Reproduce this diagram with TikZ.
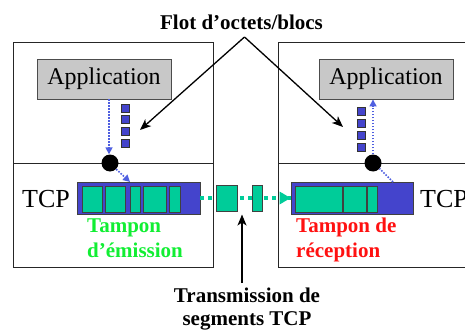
\documentclass[tikz,border=0pt]{standalone}
\usepackage{fontspec}
\setmainfont{Liberation Serif}
\usetikzlibrary{arrows.meta}
\definecolor{bufblue}{HTML}{4444CC}
\definecolor{seggreen}{HTML}{00CC99}
\definecolor{flowblue}{HTML}{4F5FE0}
\definecolor{appgray}{HTML}{C8C8C8}
\definecolor{emigreen}{HTML}{11EE33}
\definecolor{recred}{HTML}{FF1111}
\tikzset{
  frame/.style={draw=black!85, line width=1pt},
  appbox/.style={draw=black!70, fill=appgray, line width=0.9pt, minimum width=134pt, minimum height=40pt,
    inner sep=0pt, font=\fontsize{24}{28}\selectfont},
  byte/.style={draw=black!80, fill=bufblue, line width=0.6pt, minimum size=8pt, inner sep=0pt},
  junction/.style={circle, fill=black, minimum size=17pt, inner sep=0pt},
  buffer/.style={draw=black!75, fill=bufblue, line width=0.9pt, minimum height=32pt, inner sep=0pt},
  segment/.style={draw=black!75, fill=seggreen, line width=0.9pt, minimum height=26pt, inner sep=0pt},
  flow/.style={flowblue, line width=1.6pt, dash pattern=on 1.6pt off 1.4pt},
  flowtip/.style={-{Triangle[length=7pt,width=7pt]}},
  wire/.style={seggreen, line width=4pt, dash pattern=on 4pt off 4pt},
  callout/.style={black, line width=1.3pt, -{Stealth[length=11pt,width=9pt,inset=3pt]}},
  label/.style={font=\bfseries\fontsize{21}{25}\selectfont, inner sep=0pt},
  layer/.style={font=\fontsize{26}{30}\selectfont, inner sep=0pt}
}
\begin{document}
\begin{tikzpicture}[x=1pt,y=-1pt]
\useasboundingbox (0,0) rectangle (465,334);
\clip (0,0) rectangle (465,334);

% sending host
\draw[frame] (13,43) rectangle (213,267);
\draw[frame] (13,163) -- (213,163);
% receiving host (continues past the right edge)
\draw[frame] (478,43) -- (278,43) -- (278,267) -- (478,267);
\draw[frame] (278,163) -- (478,163);

% applications
\node[appbox] (appL) at (104,79) {Application};
\node[appbox] (appR) at (386,79) {Application};

% byte streams
\node[byte] (bL1) at (125,108) {};
\node[byte] (bL2) at (125,119.5) {};
\node[byte] (bL3) at (125,131) {};
\node[byte] (bL4) at (125,143) {};
\node[byte] (bR1) at (361.5,111) {};
\node[byte] (bR2) at (361.5,123) {};
\node[byte] (bR3) at (361.5,135) {};
\node[byte] (bR4) at (361.5,147) {};

% socket junctions
\node[junction] (jL) at (110,163) {};
\node[junction] (jR) at (373,163) {};

% TCP buffers
\node[buffer, minimum width=123pt] (bufL) at (138.5,198) {};
\node[buffer, minimum width=122pt] (bufR) at (352,198) {};

% data path between the two buffers
\draw[wire] (bufL.east) -- (bufR.west);
\fill[seggreen] (bufR.west) -- ++(-11,-6.5) -- ++(0,13) -- cycle;

% segments in the send buffer
\node[segment, minimum width=20pt] (sL1) at (92,199) {};
\node[segment, minimum width=20pt] (sL2) at (115,199) {};
\node[segment, minimum width=10pt] (sL3) at (135,199) {};
\node[segment, minimum width=23pt] (sL4) at (154.5,199) {};
\node[segment, minimum width=11pt] (sL5) at (174.5,199) {};
% segments in transit
\node[segment, minimum width=21pt] (sT1) at (226.5,198.5) {};
\node[segment, minimum width=10pt] (sT2) at (257,198.5) {};
% segments in the receive buffer
\node[segment, minimum width=47pt] (sR1) at (318.5,199) {};
\node[segment, minimum width=23pt] (sR2) at (354.5,199) {};
\node[segment, minimum width=10pt] (sR3) at (372,199) {};

% application <-> TCP paths
\draw[flow, flowtip] (appL.south -| 109,0) -- (jL.north -| 109,0);
\draw[flow, flowtip] (jL.-45) -- (130,182);
\draw[flow] (393,182) -- (jR.-40);
\draw[flow, flowtip] (jR.north) -- (appR.south -| jR);

% layer labels
\node[layer, anchor=base west] (tcpL) at (22,207) {TCP};
\node[layer, anchor=base west] (tcpR) at (420,207) {TCP};

% buffer labels
\node[label, emigreen, anchor=base west] (emi1) at (87,232) {Tampon};
\node[label, emigreen, anchor=base west] (emi2) at (87,257) {d’émission};
\node[label, recred, anchor=base west] (rec1) at (296,232) {Tampon de};
\node[label, recred, anchor=base west] (rec2) at (296,257) {réception};

% callouts
\node[label, anchor=base] (flot) at (241.5,30) {Flot d’octets/blocs};
\coordinate (apex) at (244.5,37);
\draw[callout] (apex) -- (140,130);
\draw[callout] (apex) -- (343,127);

\node[label, anchor=base] (trans1) at (247,302) {Transmission de};
\node[label, anchor=base] (trans2) at (247,325) {segments TCP};
\draw[callout] (242,283) -- (242,214.5);
\end{tikzpicture}
\end{document}
